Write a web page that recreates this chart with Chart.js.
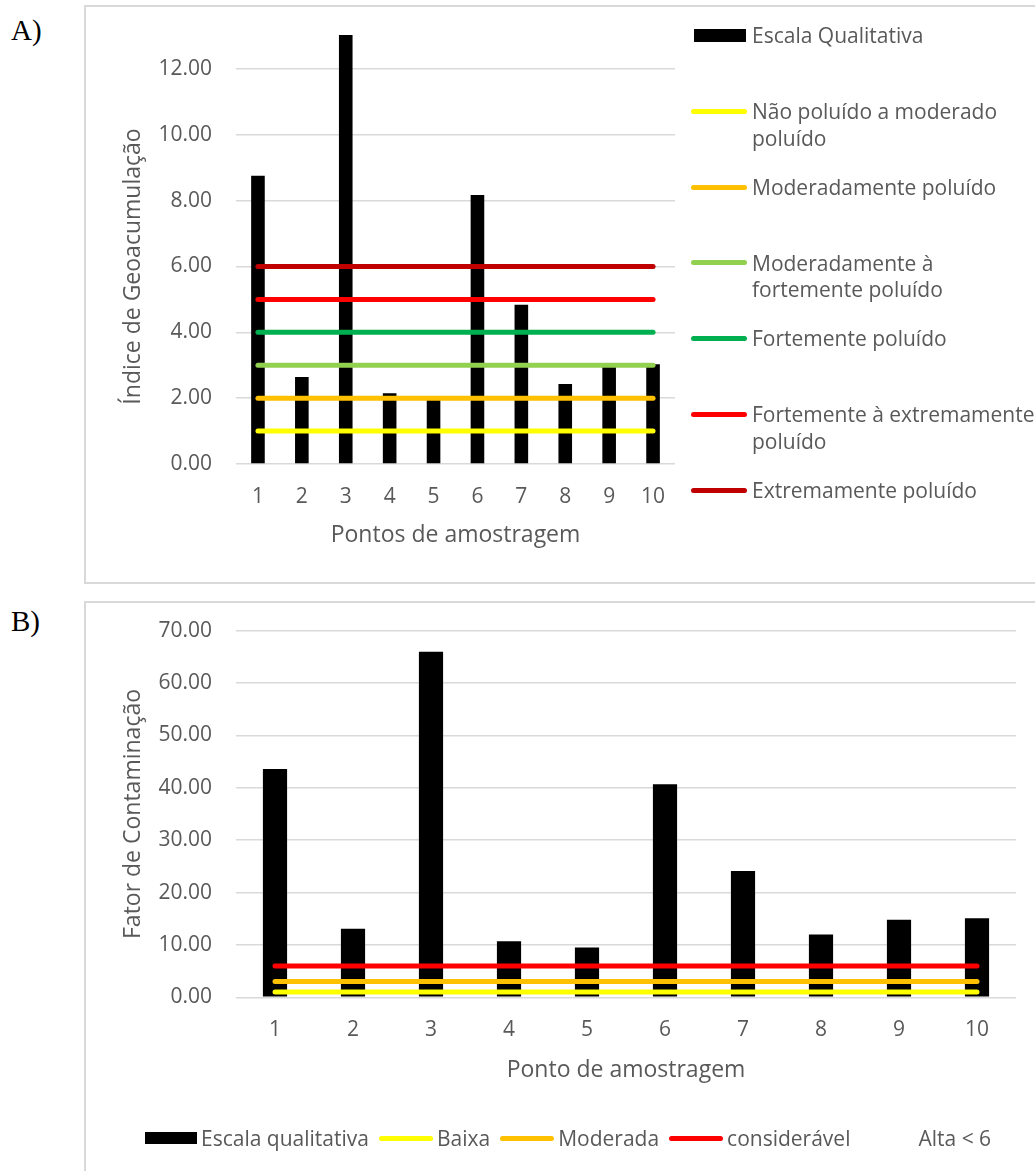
<!DOCTYPE html>
<html lang="pt">
<head>
<meta charset="utf-8">
<title>Índice de Geoacumulação e Fator de Contaminação</title>
<script src="https://cdn.jsdelivr.net/npm/chart.js@4.4.1/dist/chart.umd.min.js"></script>
<style>
  html, body { margin: 0; padding: 0; background: #fff; }
  body { position: relative; width: 1035px; height: 1171px; overflow: hidden; font-family: 'Open Sans', sans-serif; color: #595959; }
  .frame { position: absolute; border: 2px solid #d9d9d9; box-sizing: border-box; }
  .tag { position: absolute; font-family: 'Liberation Serif', 'Times New Roman', serif; font-size: 29px; line-height: 1; color: #000; }
  .plot { position: absolute; }
  .legend-a { position: absolute; left: 0; top: 0; }
  .legend-a .item { position: absolute; left: 691px; }
  .legend-a .text { position: absolute; left: 61px; top: 0; white-space: pre; font-size: 21px; line-height: 26.7px; color: #595959; }
  .swatch { position: absolute; }
  .legend-b { position: absolute; left: 145px; top: 1124px; height: 28px; display: flex; align-items: center; font-size: 21px; color: #595959; white-space: nowrap; }
  .legend-b .item { display: flex; align-items: center; margin-right: 10px; }
  .legend-b .sw { margin-right: 4px; }
</style>
</head>
<body>
<div class="frame" style="left:84px;top:5px;width:1100px;height:579px;"></div>
<div class="frame" style="left:84px;top:601px;width:1100px;height:700px;"></div>
<div class="tag" style="left:11px;top:16px;">A)</div>
<div class="tag" style="left:11px;top:607px;">B)</div>

<div class="plot" style="left:86px;top:7px;width:949px;height:575px;"><canvas id="chartA" width="949" height="575"></canvas></div>
<div class="plot" style="left:86px;top:603px;width:949px;height:568px;"><canvas id="chartB" width="949" height="568"></canvas></div>
<div class="legend-a" id="legendA"></div>
<div class="legend-b" id="legendB"></div>

<script>
// Sampling points
const pontos = ['1', '2', '3', '4', '5', '6', '7', '8', '9', '10'];

// A) Geoaccumulation index per sampling point
const igeo = [8.76, 2.64, 13.03, 2.15, 1.95, 8.17, 4.84, 2.43, 2.95, 3.03];
// A) qualitative class limits
const naoPoluidoModerado = [1, 1, 1, 1, 1, 1, 1, 1, 1, 1];
const moderadamentePoluido = [2, 2, 2, 2, 2, 2, 2, 2, 2, 2];
const moderadoFortemente = [3, 3, 3, 3, 3, 3, 3, 3, 3, 3];
const fortementePoluido = [4, 4, 4, 4, 4, 4, 4, 4, 4, 4];
const forteExtremamente = [5, 5, 5, 5, 5, 5, 5, 5, 5, 5];
const extremamentePoluido = [6, 6, 6, 6, 6, 6, 6, 6, 6, 6];
const igeoTicks = [0, 2, 4, 6, 8, 10, 12];

// B) Contamination factor per sampling point
const fatorContaminacao = [43.6, 13.1, 66.0, 10.7, 9.5, 40.7, 24.1, 12.0, 14.8, 15.1];
// B) qualitative class limits
const baixa = [1, 1, 1, 1, 1, 1, 1, 1, 1, 1];
const moderada = [3, 3, 3, 3, 3, 3, 3, 3, 3, 3];
const consideravel = [6, 6, 6, 6, 6, 6, 6, 6, 6, 6];
const alta = [];
const fcTicks = [0, 10, 20, 30, 40, 50, 60, 70];

const TEXT = '#595959';
const GRID = '#d9d9d9';
const FAMILY = "'Open Sans', sans-serif";
const TICK_FONT = { family: FAMILY, size: 21 };
const TITLE_FONT = { family: FAMILY, size: 23 };

// Vertical axis title, centred on the labelled part of the value axis
const valueAxisTitle = {
  id: 'valueAxisTitle',
  afterDraw(chart, args, opts) {
    const y = chart.scales.y;
    const top = y.getPixelForValue(y.ticks[y.ticks.length - 1].value);
    const bottom = y.getPixelForValue(y.ticks[0].value);
    const ctx = chart.ctx;
    ctx.save();
    ctx.translate(opts.x, (top + bottom) / 2);
    ctx.rotate(-Math.PI / 2);
    ctx.font = TITLE_FONT.size + 'px ' + FAMILY;
    ctx.fillStyle = TEXT;
    ctx.textAlign = 'center';
    ctx.textBaseline = 'middle';
    ctx.fillText(opts.text, 0, 0);
    ctx.restore();
  }
};

function barSet(label, data) {
  return { type: 'bar', label, data, backgroundColor: '#000000', borderWidth: 0,
           barPercentage: 0.31, categoryPercentage: 1, order: 1 };
}
function limitSet(label, data, color) {
  return { type: 'line', label, data, borderColor: color, backgroundColor: color,
           borderWidth: 5, borderCapStyle: 'round', pointRadius: 0, pointHoverRadius: 0,
           fill: false, tension: 0, order: 0 };
}

function makeOptions(cfg) {
  return {
    responsive: false,
    animation: false,
    events: [],
    layout: { padding: cfg.padding },
    plugins: {
      legend: { display: false },
      tooltip: { enabled: false },
      valueAxisTitle: { text: cfg.yTitle, x: 47 }
    },
    scales: {
      x: {
        grid: { display: false, drawTicks: false },
        border: { display: false },
        ticks: { color: TEXT, font: TICK_FONT, padding: 20 },
        title: { display: true, text: cfg.xTitle, color: TEXT, font: TITLE_FONT, padding: 0 },
        afterFit: s => { s.height = cfg.xHeight; }
      },
      y: {
        min: 0,
        max: cfg.yMax,
        grid: { color: GRID, lineWidth: 1.5, drawTicks: true, tickLength: 16, tickColor: 'rgba(0,0,0,0)' },
        border: { display: false },
        ticks: { color: TEXT, font: TICK_FONT, padding: 8, callback: v => Number(v).toFixed(2) },
        afterBuildTicks: s => { s.ticks = cfg.yTicks.map(v => ({ value: v })); },
        title: { display: false },
        afterFit: s => { s.width = 115; }
      }
    }
  };
}

const chartA = new Chart(document.getElementById('chartA'), {
  data: {
    labels: pontos,
    datasets: [
      barSet('Escala Qualitativa', igeo),
      limitSet('Não poluído a moderado\npoluído', naoPoluidoModerado, '#FFFF00'),
      limitSet('Moderadamente poluído', moderadamentePoluido, '#FFC000'),
      limitSet('Moderadamente à\nfortemente poluído', moderadoFortemente, '#92D050'),
      limitSet('Fortemente poluído', fortementePoluido, '#00B050'),
      limitSet('Fortemente à extremamente\npoluído', forteExtremamente, '#FF0000'),
      limitSet('Extremamente poluído', extremamentePoluido, '#C00000')
    ]
  },
  options: makeOptions({
    padding: { left: 35, right: 360, top: 22.5, bottom: 33.2 },
    xHeight: 84.8, yMax: 13.2, yTicks: igeoTicks,
    xTitle: 'Pontos de amostragem', yTitle: 'Índice de Geoacumulação'
  }),
  plugins: [valueAxisTitle]
});

const chartB = new Chart(document.getElementById('chartB'), {
  data: {
    labels: pontos,
    datasets: [
      barSet('Escala qualitativa', fatorContaminacao),
      limitSet('Baixa', baixa, '#FFFF00'),
      limitSet('Moderada', moderada, '#FFC000'),
      limitSet('considerável', consideravel, '#FF0000'),
      limitSet('Alta < 6', alta, 'rgba(0,0,0,0)')
    ]
  },
  options: makeOptions({
    padding: { left: 35, right: 19, top: 27.7, bottom: 87.2 },
    xHeight: 86.5, yMax: 70, yTicks: fcTicks,
    xTitle: 'Ponto de amostragem', yTitle: 'Fator de Contaminação'
  }),
  plugins: [valueAxisTitle]
});

// Swatch element for a legend entry: filled block for bars, rounded stroke for lines
function swatch(ds) {
  const el = document.createElement('div');
  el.className = 'swatch';
  if (ds.type === 'bar') {
    el.style.cssText += 'width:52px;height:12.5px;background:' + ds.backgroundColor + ';';
  } else {
    el.style.cssText += 'width:56px;height:5px;border-radius:2.5px;background:' + ds.borderColor + ';';
  }
  return el;
}

// Right-side legend of chart A: one slot per dataset
(function () {
  const host = document.getElementById('legendA');
  const firstCenter = 35.5, slot = 75.8, lineH = 26.7;
  chartA.data.datasets.forEach((ds, i) => {
    const item = document.createElement('div');
    item.className = 'item';
    const cy = firstCenter + slot * i;
    item.style.top = (cy - lineH / 2) + 'px';
    const sw = swatch(ds);
    const h = ds.type === 'bar' ? 12.5 : 5;
    sw.style.left = (ds.type === 'bar' ? 3 : 0) + 'px';
    sw.style.top = (lineH / 2 - h / 2) + 'px';
    const tx = document.createElement('div');
    tx.className = 'text';
    tx.textContent = ds.label;
    item.appendChild(sw);
    item.appendChild(tx);
    host.appendChild(item);
  });
})();

// Bottom legend of chart B
(function () {
  const host = document.getElementById('legendB');
  chartB.data.datasets.forEach(ds => {
    const item = document.createElement('div');
    item.className = 'item';
    const sw = swatch(ds);
    sw.classList.add('sw');
    sw.style.position = 'static';
    if (ds.type !== 'bar') sw.style.width = '54px';
    const tx = document.createElement('span');
    tx.textContent = ds.label;
    item.appendChild(sw);
    item.appendChild(tx);
    host.appendChild(item);
  });
})();
</script>
</body>
</html>
